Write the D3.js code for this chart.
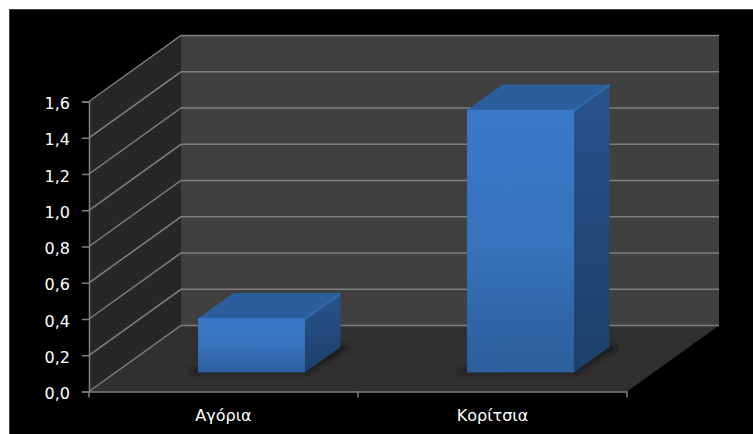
<!DOCTYPE html>
<html><head><meta charset="utf-8">
<script src="https://cdnjs.cloudflare.com/ajax/libs/d3/7.8.5/d3.min.js"></script>
<style>html,body{margin:0;padding:0;background:#fff;overflow:hidden}svg{display:block}
text{font-family:"DejaVu Sans",sans-serif;fill:#fff}</style></head><body>
<svg id="c" width="753" height="434"></svg>
<script>
const categories = ["Αγόρια", "Κορίτσια"];
const values = [0.295, 1.445];
const yTicks = [0, 0.2, 0.4, 0.6, 0.8, 1.0, 1.2, 1.4, 1.6];

const svg = d3.select("#c");
const W = 753, H = 434;
const x = d3.scaleBand().domain(categories).range([89, 627]);
const y = d3.scaleLinear().domain([0, 1.6]).range([391.5, 101.5]);
const depth = {dx: 92, dy: -66};          // whole floor depth
const front = 0.305, back = 0.69;         // bar depth positions, as fraction of floor depth
const barW = 107;
const fmt = d => d.toFixed(1).replace(".", ",");
const poly = p => p.map(q => q.map(v => v.toFixed(1)).join(",")).join(" ");

const defs = svg.append("defs");
function grad(id, stops) {
  const g = defs.append("linearGradient").attr("id", id).attr("x1", 0).attr("y1", 0).attr("x2", 0).attr("y2", 1);
  stops.forEach((c, i) => g.append("stop").attr("offset", i / (stops.length - 1)).attr("stop-color", c));
}
grad("gF", ["#3a79c8", "#3873bd", "#2c5e9c"]);
grad("gS", ["#28548c", "#1d3f69"]);
defs.append("filter").attr("id", "blur").attr("x", "-20%").attr("y", "-50%").attr("width", "140%").attr("height", "200%")
  .append("feGaussianBlur").attr("stdDeviation", 2.5);

svg.append("rect").attr("x", 9).attr("y", 9).attr("width", W - 9).attr("height", H - 9).attr("fill", "#000");
svg.append("path").attr("d", `M9.5,${H}V9.5H${W}`).attr("fill", "none").attr("stroke", "#444");

const y0 = y(0), y1 = y(1.6);
const xL = x.range()[0], xR = x.range()[1];
// back wall
svg.append("rect").attr("x", xL + depth.dx).attr("y", y1 + depth.dy).attr("width", xR - xL).attr("height", y0 - y1).attr("fill", "#404040");
// side wall
svg.append("polygon").attr("points", poly([[xL, y1], [xL + depth.dx, y1 + depth.dy], [xL + depth.dx, y0 + depth.dy], [xL, y0]])).attr("fill", "#272727");
// floor
svg.append("polygon").attr("points", poly([[xL, y0], [xL + depth.dx, y0 + depth.dy], [xR + depth.dx, y0 + depth.dy], [xR, y0]])).attr("fill", "#303030");

// gridlines
svg.append("g").selectAll("polyline").data(yTicks).join("polyline")
  .attr("points", d => poly([[xL, y(d)], [xL + depth.dx, y(d) + depth.dy], [xR + depth.dx, y(d) + depth.dy]]))
  .attr("fill", "none").attr("stroke", "#7f7f7f").attr("stroke-width", 1.5);

// axes
const axY = svg.append("g").attr("transform", `translate(${xL},0)`)
  .call(d3.axisLeft(y).tickValues(yTicks).tickFormat(fmt).tickSize(7).tickPadding(12));
axY.selectAll("path,line").attr("stroke", "#7f7f7f").attr("stroke-width", 1.5);
axY.selectAll("text").attr("font-size", 16).attr("y", 2).attr("font-family", '"DejaVu Sans",sans-serif').attr("fill", "#fff");

const axX = svg.append("g").attr("transform", `translate(0,${y0})`)
  .call(d3.axisBottom(x).tickSize(0).tickPadding(18));
axX.selectAll("line").remove();
axX.select("path").attr("stroke", "#7f7f7f").attr("stroke-width", 1.5);
axX.selectAll("text").attr("font-size", 16).attr("font-family", '"DejaVu Sans",sans-serif').attr("fill", "#fff");
const bounds = [xL, xL + x.step(), xL + 2 * x.step()];
axX.selectAll("line.b").data(bounds).join("line").attr("class", "b")
  .attr("x1", d => d).attr("x2", d => d).attr("y1", 0).attr("y2", 6)
  .attr("stroke", "#7f7f7f").attr("stroke-width", 1.5);

// bars
const bars = svg.append("g").selectAll("g").data(categories.map((c, i) => ({c, v: values[i]}))).join("g");
bars.each(function(d) {
  const g = d3.select(this);
  const cx = x(d.c) + x.bandwidth() / 2;
  const fx = depth.dx * front, fy = -19;
  const bx = depth.dx * (back - front), by = depth.dy * (back - front);
  const l = cx - barW / 2 + fx, r = l + barW;
  const b = y(0) + fy, t = y(d.v) + fy;
  g.append("polygon").attr("filter", "url(#blur)").attr("fill", "#151515").attr("opacity", .85)
    .attr("points", poly([[l - 8, b + 1], [r + 2, b + 1], [r + bx + 9, b + by], [r + bx - 4, b + by - 3], [r, b - 5], [l - 8, b - 3]]));
  g.append("polygon").attr("fill", "#2b5e9d").attr("stroke", "#2b5e9d").attr("stroke-linejoin", "round").attr("points", poly([[l, t], [l + bx, t + by], [r + bx, t + by], [r, t]]));
  g.append("polygon").attr("fill", "url(#gS)").attr("points", poly([[r, t], [r + bx, t + by], [r + bx, b + by], [r, b]]));
  g.append("rect").attr("x", l).attr("y", t).attr("width", barW).attr("height", b - t).attr("fill", "url(#gF)");
  g.append("line").attr("x1", r).attr("x2", r + bx).attr("y1", t).attr("y2", t + by).attr("stroke", "#3268aa").attr("stroke-width", 2);
  g.append("line").attr("x1", l).attr("x2", r).attr("y1", t).attr("y2", t).attr("stroke", "#3a79c8").attr("stroke-width", 1.5);
});
</script></body></html>
